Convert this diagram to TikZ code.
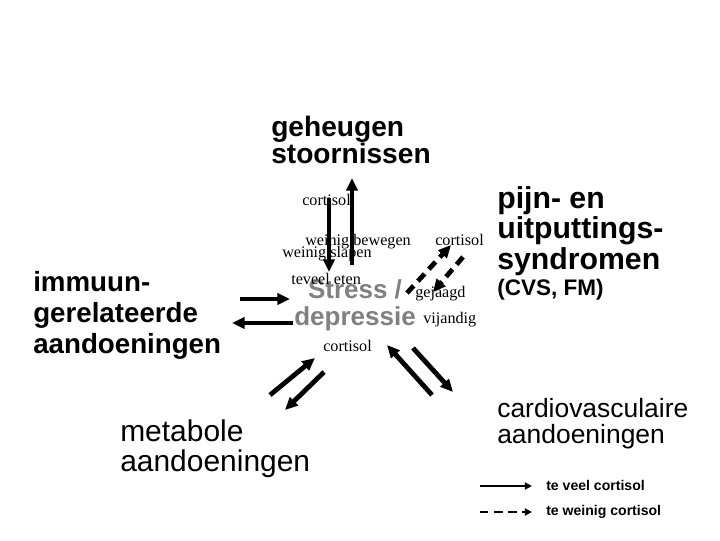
\documentclass[tikz,border=0pt]{standalone}
\usepackage{fontspec}
\setmainfont{Liberation Sans}
\newfontfamily\labelfont{Liberation Serif}
\usetikzlibrary{arrows.meta}
\definecolor{StressGray}{RGB}{128,128,128}

\begin{document}
\begin{tikzpicture}[
    x=0.025cm, y=-0.025cm,
    title/.style={
      anchor=base west,
      inner sep=0pt,
      align=left,
      font=\bfseries\fontsize{20}{21.5}\selectfont
    },
    plain/.style={
      anchor=base west,
      inner sep=0pt,
      align=left,
      font=\fontsize{20}{21.3}\selectfont
    },
    lbl/.style={
      anchor=base west,
      inner sep=0pt,
      font=\labelfont\fontsize{11.5}{12}\selectfont
    },
    legend/.style={
      anchor=base west,
      inner sep=0pt,
      font=\bfseries\fontsize{10}{11}\selectfont
    },
    arrow/.style={
      -{Triangle[length=9pt, width=8pt]},
      line width=3.4pt
    },
    darrow/.style={
      arrow,
      dash pattern=on 7pt off 4.5pt
    },
    larrow/.style={
      -{Triangle[length=5pt, width=5pt]},
      line width=2pt
    }
  ]

    \useasboundingbox (0,0) rectangle (720,540);

    % main boxes of text (placed at the baseline of their last line)
    \node[title, font=\bfseries\fontsize{20}{19.2}\selectfont] (geh) at (271,163) {geheugen\\stoornissen};
    \node[title, font=\bfseries\fontsize{19.7}{21.7}\selectfont] (imm) at (33,353) {immuun-\\gerelateerde\\aandoeningen};
    \node[plain, font=\fontsize{21.3}{21.3}\selectfont] (met) at (120,471) {metabole\\aandoeningen};
    \node[title, font=\bfseries\fontsize{21.5}{21.5}\selectfont] (pijn) at (497,269) {pijn- en\\uitputtings-\\syndromen};
    \node[title, font=\bfseries\fontsize{16}{17}\selectfont] (cvs) at (497,295) {(CVS, FM)};
    \node[plain, font=\fontsize{18.8}{17.8}\selectfont] (card) at (497,443) {cardiovasculaire\\aandoeningen};
    \node[anchor=base, inner sep=0pt, align=center, text=StressGray,
          font=\bfseries\fontsize{18.5}{19.2}\selectfont] (stress) at (355,325) {Stress /\\depressie};

    % small labels
    \node[lbl] (cort1) at (302,205) {cortisol};
    \node[lbl] (bew) at (305,245) {weinig bewegen};
    \node[lbl] (slap) at (282,257) {weinig slapen};
    \node[lbl] (eten) at (291,284) {teveel eten};
    \node[lbl] (cort2) at (435,245) {cortisol};
    \node[lbl] (gej) at (415,297) {gejaagd};
    \node[lbl] (vij) at (423,323) {vijandig};
    \node[lbl] (cort3) at (323,351) {cortisol};

    % arrow ends
    \coordinate (v1a) at (329,198);  \coordinate (v1b) at (329,272);
    \coordinate (v2a) at (352,265);  \coordinate (v2b) at (352,178);
    \coordinate (h1a) at (240,299);  \coordinate (h1b) at (290,299);
    \coordinate (h2a) at (293,323);  \coordinate (h2b) at (232,323);
    \coordinate (p1a) at (407,293);  \coordinate (p1b) at (451,245);
    \coordinate (p2a) at (463,257);  \coordinate (p2b) at (433,292);
    \coordinate (m1a) at (270,395);  \coordinate (m1b) at (315,358);
    \coordinate (m2a) at (324,372);  \coordinate (m2b) at (285,410);
    \coordinate (c1a) at (432,395);  \coordinate (c1b) at (387,345);
    \coordinate (c2a) at (413,348);  \coordinate (c2b) at (453,392);

    \draw[arrow] (v1a) -- (v1b);
    \draw[arrow] (v2a) -- (v2b);
    \draw[arrow] (h1a) -- (h1b);
    \draw[arrow] (h2a) -- (h2b);
    \draw[darrow] (p1a) -- (p1b);
    \draw[darrow] (p2a) -- (p2b);
    \draw[arrow] (m1a) -- (m1b);
    \draw[arrow] (m2a) -- (m2b);
    \draw[arrow] (c1a) -- (c1b);
    \draw[arrow] (c2a) -- (c2b);

    % legend
    \node[legend] (leg1) at (546,490) {te veel cortisol};
    \node[legend] (leg2) at (546,515) {te weinig cortisol};
    \coordinate (l1a) at (480,486);  \coordinate (l2a) at (480,512);
    \draw[larrow] (l1a) -- ([xshift=-10pt]leg1.base west |- l1a);
    \draw[larrow, dash pattern=on 6pt off 4pt] (l2a) -- ([xshift=-10pt]leg2.base west |- l2a);

  \end{tikzpicture}
\end{document}
